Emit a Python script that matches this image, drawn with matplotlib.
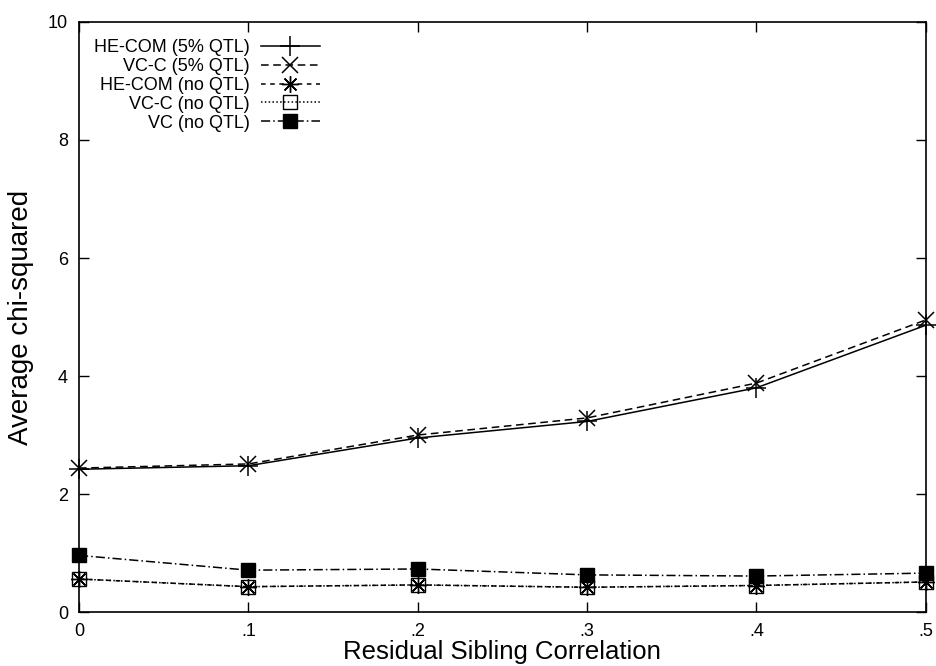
import matplotlib
matplotlib.use("Agg")
import matplotlib.pyplot as plt

# residual sibling correlation vs average chi-squared
x_corr = [0.0, 0.1, 0.2, 0.3, 0.4, 0.5]
x_labels = ["0", ".1", ".2", ".3", ".4", ".5"]

he_com_5 = [2.42, 2.48, 2.95, 3.23, 3.80, 4.86]
vc_c_5 = [2.44, 2.51, 3.00, 3.29, 3.88, 4.95]
he_com_no = [0.56, 0.43, 0.46, 0.42, 0.45, 0.51]
vc_c_no = [0.56, 0.43, 0.46, 0.42, 0.45, 0.51]
vc_no = [0.96, 0.71, 0.73, 0.63, 0.61, 0.66]

plt.rcParams['font.family'] = ['Liberation Sans', 'DejaVu Sans']

fig = plt.figure(figsize=(9.36, 6.66), dpi=100)
ax = fig.add_axes([0.0844, 0.081, 0.9046, 0.886])

lw = 1.1
ax.plot(x_corr, he_com_5, color='black', lw=lw, ls='-', marker='+',
        ms=14, mew=1.1, clip_on=False, label='HE-COM (5% QTL)')
ax.plot(x_corr, vc_c_5, color='black', lw=lw, ls=(0, (5, 3)), marker='x',
        ms=11, mew=1.1, clip_on=False, label='VC-C (5% QTL)')
ax.plot(x_corr, he_com_no, color='black', lw=lw, ls=(0, (3, 3)), marker=(8, 2, 0),
        ms=12, mew=1.0, clip_on=False, label='HE-COM (no QTL)')
ax.plot(x_corr, vc_c_no, color='black', lw=lw, ls=(0, (1, 1.5)), marker='s',
        ms=10, mew=1.0, mfc='none', clip_on=False, label='VC-C (no QTL)')
ax.plot(x_corr, vc_no, color='black', lw=lw, ls=(0, (6, 2, 1, 2)), marker='s',
        ms=10, mfc='black', clip_on=False, label='VC (no QTL)')

ax.set_xlim(0, 0.5)
ax.set_ylim(0, 10)
ax.set_xticks(x_corr)
ax.set_xticklabels(x_labels)
ax.set_yticks([0, 2, 4, 6, 8, 10])
ax.tick_params(direction='in', length=7, width=1, top=True, right=True,
               labelsize=13, pad=8)
for s in ax.spines.values():
    s.set_linewidth(1.2)

ax.set_xlabel('Residual Sibling Correlation', fontsize=18.5, labelpad=0)
ax.set_ylabel('Average chi-squared', fontsize=20, labelpad=10)

ax.legend(loc='upper right', bbox_to_anchor=(0.302, 0.995), frameon=False,
          markerfirst=False, fontsize=13, labelspacing=0.1, handlelength=3.3,
          handletextpad=0.6, borderpad=0.3)

fig.savefig('out.png', dpi=100)
